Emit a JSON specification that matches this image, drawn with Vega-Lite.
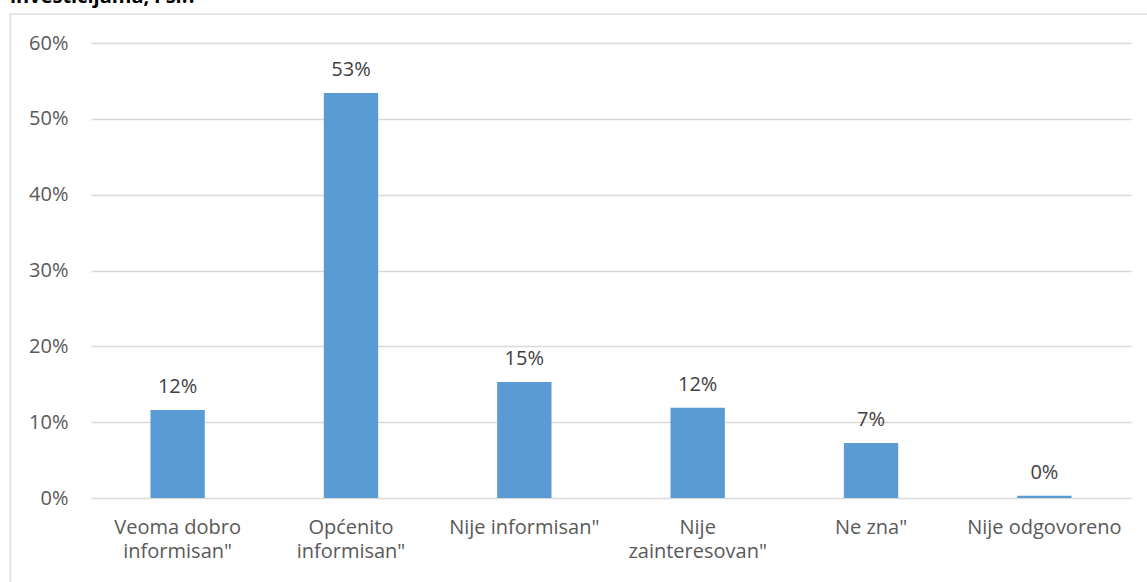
{
  "$schema": "https://vega.github.io/schema/vega-lite/v6.json",
  "width": 1150,
  "height": 580,
  "autosize": {"type": "none"},
  "padding": {"left": 10, "top": 14, "right": 0, "bottom": 0},
  "background": "white",
  "config": {"view": {"stroke": "#d9d9d9", "strokeWidth": 1.3}},
  "title": {"text": "investicijama, i sl.?", "anchor": "start", "frame": "group", "font": "Open Sans", "fontSize": 20, "fontWeight": "bold", "color": "#000000", "baseline": "alphabetic", "offset": 0, "dy": 9},
  "data": {"values": [
    {"odgovor": "Veoma dobro informisan\"", "udio": 0.116},
    {"odgovor": "Općenito informisan\"", "udio": 0.534},
    {"odgovor": "Nije informisan\"", "udio": 0.153},
    {"odgovor": "Nije zainteresovan\"", "udio": 0.119},
    {"odgovor": "Ne zna\"", "udio": 0.0725},
    {"odgovor": "Nije odgovoreno", "udio": 0.003}
  ]},
  "encoding": {
    "x": {"field": "odgovor", "type": "nominal", "sort": null,
      "scale": {"range": [81, 1121], "paddingInner": 0.6865, "paddingOuter": 0.343},
      "axis": {"title": null, "labelAngle": 0, "domain": false, "ticks": false, "grid": false,
        "labelPadding": -77, "labelBaseline": "top", "labelFont": "Open Sans", "labelFontSize": 20, "labelColor": "#595959", "labelLineHeight": 24, "labelLimit": 300,
        "labelExpr": "datum.label == 'Veoma dobro informisan\"' ? ['Veoma dobro', 'informisan\"'] : datum.label == 'Općenito informisan\"' ? ['Općenito', 'informisan\"'] : datum.label == 'Nije zainteresovan\"' ? ['Nije', 'zainteresovan\"'] : datum.label"}},
    "y": {"field": "udio", "type": "quantitative",
      "scale": {"domain": [0, 0.6], "range": [484, 29]},
      "axis": {"title": null, "format": ".0%", "values": [0, 0.1, 0.2, 0.3, 0.4, 0.5, 0.6], "grid": true, "gridColor": "#d9d9d9", "gridWidth": 1.3, "domain": false, "ticks": false,
        "labelPadding": -58, "labelFont": "Open Sans", "labelFontSize": 20, "labelColor": "#595959"}}
  },
  "layer": [
    {"mark": {"type": "bar", "color": "#5b9bd5"}},
    {"mark": {"type": "text", "baseline": "alphabetic", "dy": -17, "font": "Open Sans", "fontSize": 20, "color": "#404040"},
     "encoding": {"text": {"field": "udio", "type": "quantitative", "format": ".0%"}}}
  ]
}
